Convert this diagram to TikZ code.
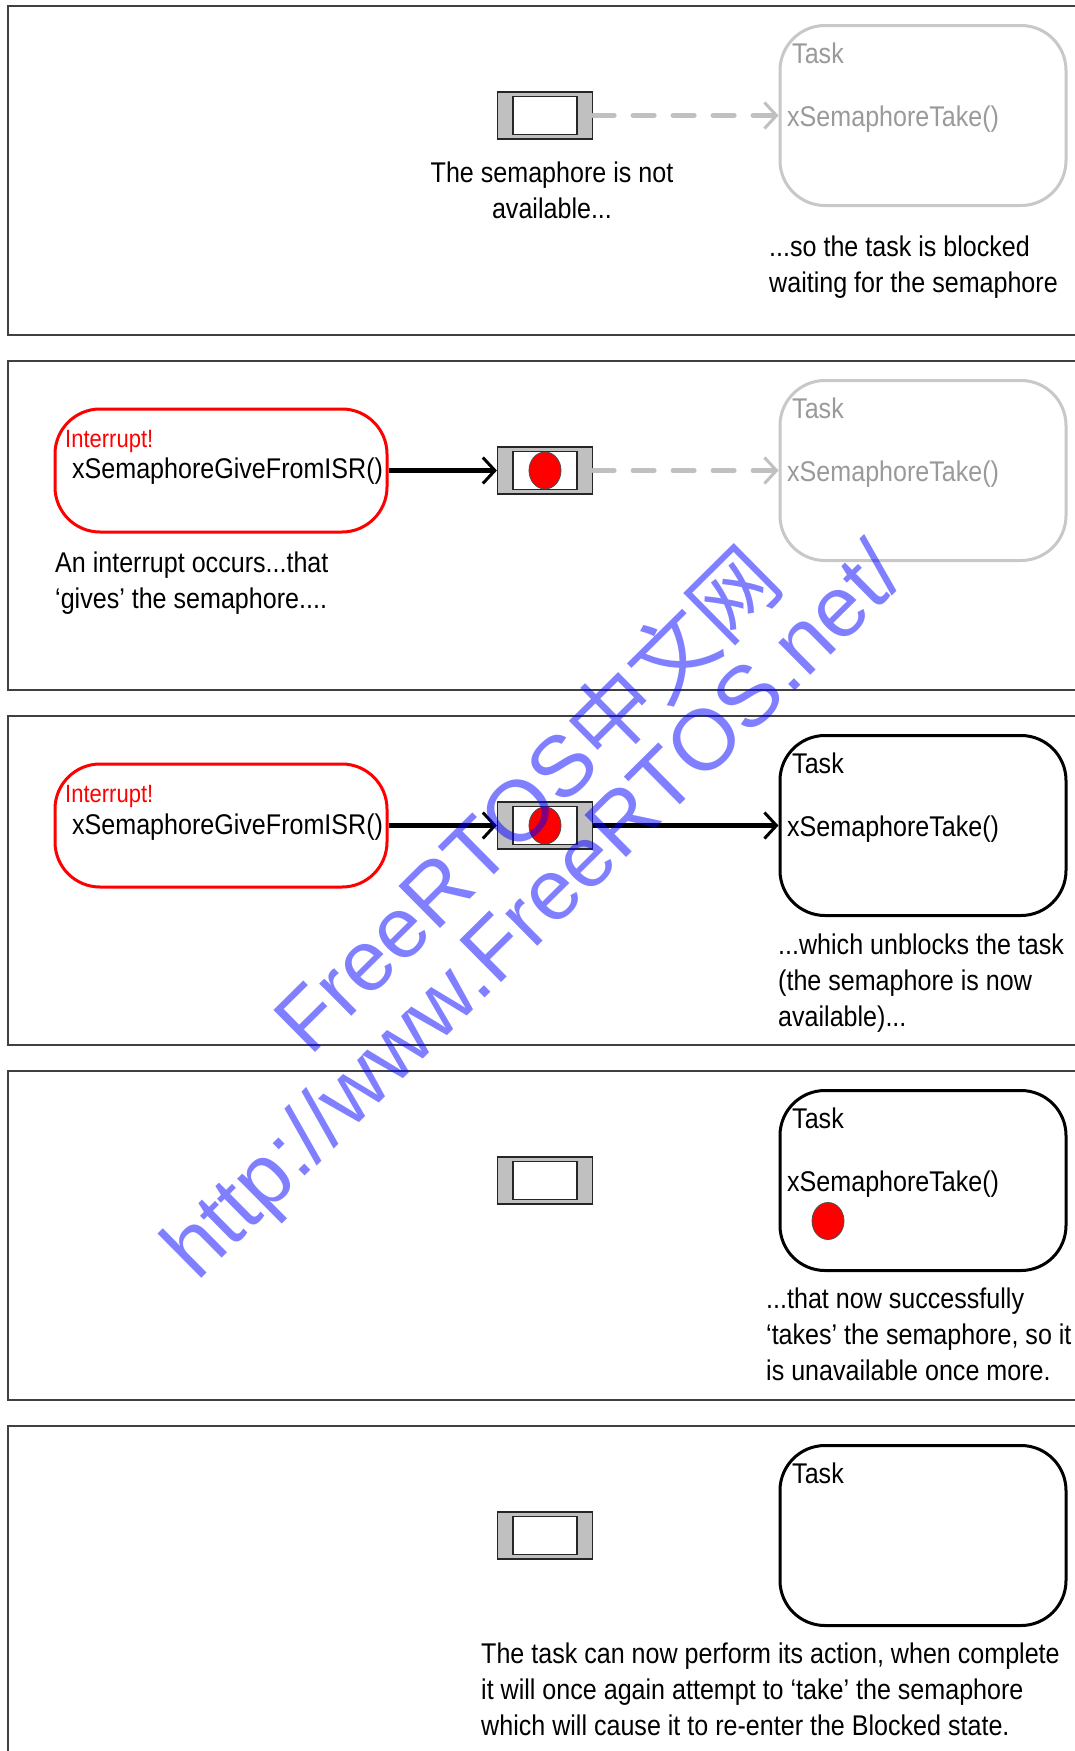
\documentclass[tikz,border=0pt]{standalone}
\usepackage{fontspec}
\setmainfont{Liberation Sans}[FakeStretch=0.88]
\newfontfamily\wmfont{Liberation Sans}
\newfontfamily\cjkfont{Noto Sans CJK SC}
\usetikzlibrary{arrows.meta,shapes.geometric}
\definecolor{semagray}{HTML}{C0C0C0}
\definecolor{fadegray}{HTML}{C8C8C8}
\definecolor{fadetext}{HTML}{9A9A9A}

\begin{document}
\begin{tikzpicture}[x=1pt,y=-1pt,font=\fontsize{28.5}{36}\selectfont,
  panel/.style={draw=black!75,line width=1.5pt},
  semabox/.style={draw=black!85,fill=semagray,line width=1.2pt,minimum width=95pt,minimum height=47pt,inner sep=0pt},
  semaslot/.style={draw=black!85,fill=white,line width=1.5pt,minimum width=64pt,minimum height=38pt,inner sep=0pt},
  token/.style={ellipse,draw=black!70,fill=red,line width=0.8pt,minimum width=32pt,minimum height=37pt,inner sep=0pt},
  taskbox/.style={draw,line width=3pt,rounded corners=45pt,minimum width=286pt,minimum height=180pt,inner sep=0pt},
  isrbox/.style={draw=red,line width=3pt,rounded corners=45pt,minimum width=332pt,minimum height=123pt,inner sep=0pt},
  txt/.style={inner sep=0pt,anchor=base west},
  irq/.style={txt,text=red,font=\fontsize{25}{28}\selectfont},
  note/.style={inner sep=0pt,anchor=base west,align=left},
  flow/.style={line width=5pt,-{Straight Barb[length=12pt,width=26pt,line width=3pt]}},
  waitflow/.style={draw=semagray,line width=5pt,line cap=round,dash pattern=on 21pt off 19pt,-{Straight Barb[length=12pt,width=26pt,line width=3pt]}},
  wm/.style={inner sep=0pt,anchor=base west,rotate=44.7,text=blue,text opacity=0.5,font=\wmfont\fontsize{86}{86}\selectfont}]
			\useasboundingbox (0,0) rectangle (1075,1751);
			\fill[white] (0,0) rectangle (1075,1751);

			\draw[panel] (8,6) rectangle (1100,335);
			\draw[panel] (8,361) rectangle (1100,690);
			\draw[panel] (8,716) rectangle (1100,1045);
			\draw[panel] (8,1071) rectangle (1100,1400);
			\draw[panel] (8,1426) rectangle (1100,1760);

			\node[semabox] (sem1) at (545,115.5) {};
			\node[semaslot] (slot1) at (545,115.5) {};
			\node[taskbox,draw=fadegray] (task1) at (923,115.5) {};
			\node[txt,text=fadetext] (name1) at (792,63) {Task};
			\node[txt,text=fadetext] (take1) at (787,126) {xSemaphoreTake()};
			\node[note,anchor=base,align=center] (msg1) at (552,218) {The semaphore is not\\available...};
			\node[note] (why1) at (769,292) {...so the task is blocked\\waiting for the semaphore};

			\node[isrbox] (isr2) at (221,470.5) {};
			\node[irq] (irq2) at (65,447) {Interrupt!};
			\node[txt] (give2) at (72,478.5) {xSemaphoreGiveFromISR()};
			\node[semabox] (sem2) at (545,470.5) {};
			\node[semaslot] (slot2) at (545,470.5) {};
			\node[token] (tok2) at (545,470.5) {};
			\node[taskbox,draw=fadegray] (task2) at (923,470.5) {};
			\node[txt,text=fadetext] (name2) at (792,418) {Task};
			\node[txt,text=fadetext] (take2) at (787,481) {xSemaphoreTake()};
			\node[note] (msg2) at (55,608) {An interrupt occurs...that\\‘gives’ the semaphore....};

			\node[isrbox] (isr3) at (221,825.5) {};
			\node[irq] (irq3) at (65,802) {Interrupt!};
			\node[txt] (give3) at (72,834) {xSemaphoreGiveFromISR()};
			\node[semabox] (sem3) at (545,825.5) {};
			\node[semaslot] (slot3) at (545,825.5) {};
			\node[token] (tok3) at (545,825.5) {};
			\node[taskbox] (task3) at (923,825.5) {};
			\node[txt] (name3) at (792,773) {Task};
			\node[txt] (take3) at (787,836) {xSemaphoreTake()};
			\node[note] (msg3) at (778,1026) {...which unblocks the task\\(the semaphore is now\\available)...};

			\node[semabox] (sem4) at (545,1180.5) {};
			\node[semaslot] (slot4) at (545,1180.5) {};
			\node[taskbox] (task4) at (923,1180.5) {};
			\node[txt] (name4) at (792,1128) {Task};
			\node[txt] (take4) at (787,1191) {xSemaphoreTake()};
			\node[token] (tok4) at (828,1221) {};
			\node[note] (msg4) at (766,1380) {...that now successfully\\‘takes’ the semaphore, so it\\is unavailable once more.};

			\node[semabox] (sem5) at (545,1535.5) {};
			\node[semaslot] (slot5) at (545,1535.5) {};
			\node[taskbox] (task5) at (923,1535.5) {};
			\node[txt] (name5) at (792,1483) {Task};
			\node[note] (msg5) at (481,1735) {The task can now perform its action, when complete\\it will once again attempt to ‘take’ the semaphore\\which will cause it to re-enter the Blocked state.};

			\draw[waitflow] (sem1) to (task1);
			\draw[flow] (isr2) to (sem2);
			\draw[waitflow] (sem2) to (task2);
			\draw[flow] (isr3) to (sem3);
			\draw[flow] (sem3) to (task3);

			\node[wm] (wm1) at (310,1058) {FreeRTOS{\cjkfont 中文网}};
			\node[wm] (wm2) at (197,1283) {http://www.FreeRTOS.net/};
		\end{tikzpicture}
\end{document}
